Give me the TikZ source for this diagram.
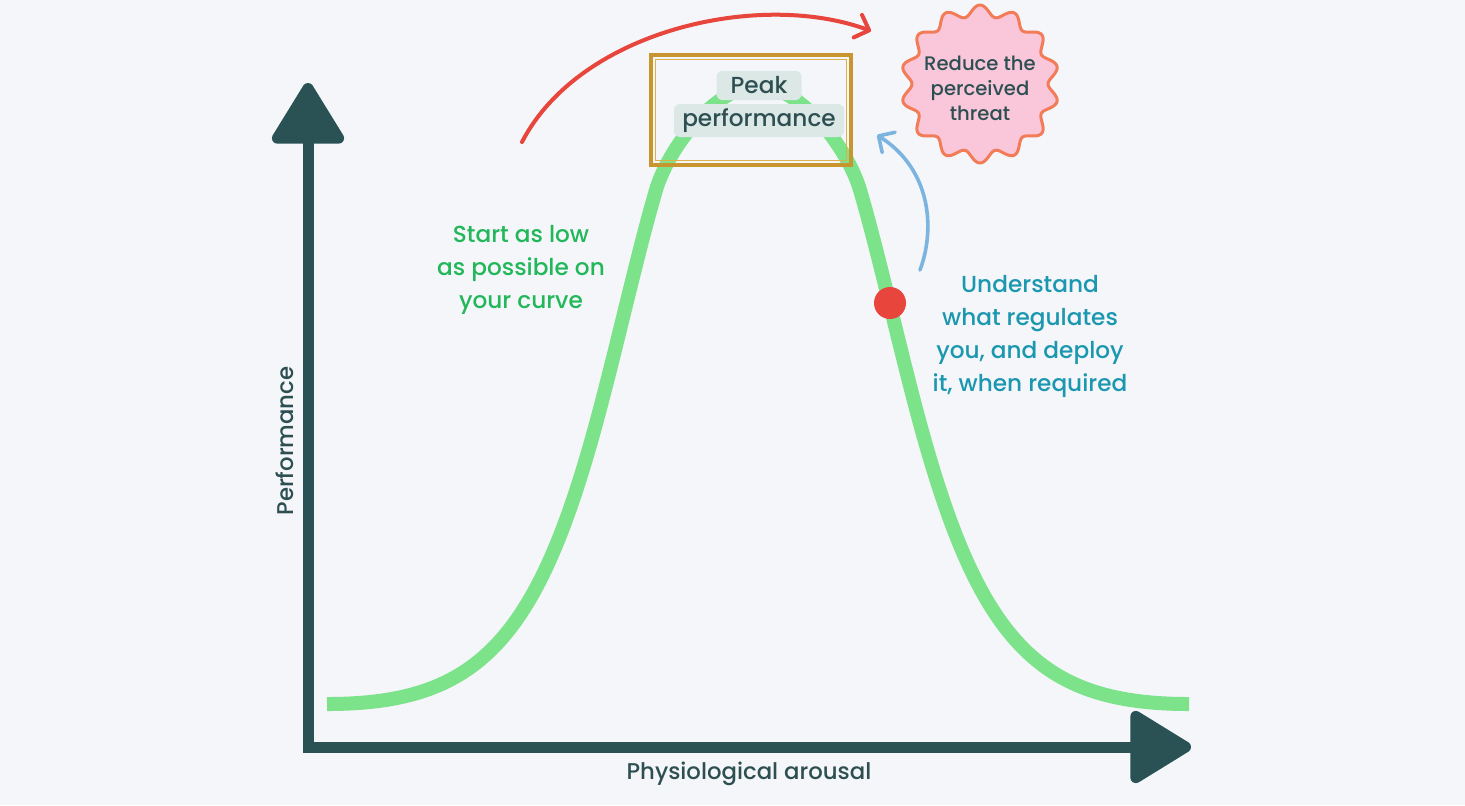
\documentclass[tikz,border=0pt]{standalone}
\usepackage{fontspec}
\setmainfont{Poppins}[UprightFont=* Medium,BoldFont=* SemiBold]
\usetikzlibrary{arrows.meta}

\definecolor{bgcol}{HTML}{F4F6FA}
\definecolor{axiscol}{HTML}{2A5255}
\definecolor{curvecol}{HTML}{7DE38B}
\definecolor{redcol}{HTML}{E8453C}
\definecolor{bluecol}{HTML}{7CB4E0}
\definecolor{startcol}{HTML}{22B85A}
\definecolor{tealcol}{HTML}{1B97B0}
\definecolor{inkcol}{HTML}{2D4F52}
\definecolor{tagcol}{HTML}{DCE8E6}
\definecolor{sealfill}{HTML}{F9C6DA}
\definecolor{sealdraw}{HTML}{F37C58}
\definecolor{goldcol}{HTML}{C8952F}
\definecolor{goldlite}{HTML}{DDB04A}

\begin{document}
\begin{tikzpicture}[
  x=0.5pt,y=-0.5pt,
  font=\fontsize{11.6}{16.5}\selectfont,
  >={Straight Barb[length=6pt,width=12pt,round]},
  axis/.style={draw=axiscol,line width=5.5pt,
    {Triangle[length=33pt,width=39pt,round]}-{Triangle[length=33pt,width=39pt,round]}},
  curve/.style={draw=curvecol,line width=7pt,line cap=butt},
  goldframe/.style={draw=goldcol,line width=2pt,minimum width=100pt,minimum height=55pt,inner sep=0pt},
  peaktag/.style={fill=tagcol,rounded corners=3pt,text=inkcol,inner sep=0pt},
  hotdot/.style={circle,fill=redcol,minimum size=16pt,inner sep=0pt},
  seal/.style={draw=sealdraw,fill=sealfill,line width=1.5pt,line join=round},
  greentext/.style={text=startcol,align=center},
  tealtext/.style={text=tealcol,align=center},
  axlabel/.style={text=inkcol,font=\fontsize{11.4}{14}\selectfont},
  redarrow/.style={->,draw=redcol,line width=2pt,line cap=round},
  bluearrow/.style={->,draw=bluecol,line width=1.8pt,line cap=round},
]
\fill[bgcol] (0,0) rectangle (1465,805);
\useasboundingbox (0,0) rectangle (1465,805);

%% ------------------------------------------------------------------ axes
\coordinate (origin) at (308,747);
\coordinate (ytip) at (308,83);
\coordinate (xtip) at (1191,747);
\draw[axis] (ytip) -- (origin) -- (xtip);
\node[axlabel,rotate=90] (ylab) at (285,441) {Performance};
\node[axlabel] (xlab) at (749,774) {Physiological arousal};

%% ----------------------------------------------------------------- curve
\draw[curve] (327,704) .. controls (477,704) and (537,642) .. (597,420)
  .. controls (617,346) and (638,251) .. (656,190)
  .. controls (668,149) and (715,86) .. (758,86)
  .. controls (801,86) and (848,149) .. (860,190)
  .. controls (878,251) and (899,346) .. (919,420)
  .. controls (979,642) and (1039,704) .. (1189,704);

%% ------------------------------------------------------------------ peak
\node[goldframe] (peakbox) at (751,110) {};
\draw[draw=goldlite,line width=0.7pt]
  ([shift={(6.5,6.5)}]peakbox.north west) rectangle ([shift={(-6.5,-6.5)}]peakbox.south east);
\node[peaktag,minimum width=42.5pt,minimum height=14.5pt] (peak1) at (759,85.5) {Peak};
\node[peaktag,minimum width=85pt,minimum height=16.5pt] (peak2) at (759,120.5) {performance};

%% ------------------------------------------------------------------ seal
\draw[seal] plot[domain=0:360,samples=281,smooth]
  ({980+(73.5+5.5*cos(14*(\x+90)))*cos(\x)},{84+(73.5+5.5*cos(14*(\x+90)))*sin(\x)}) -- cycle;
\node[text=inkcol,align=center,font=\fontsize{9.8}{12.5}\selectfont] (threat) at (980,88)
  {Reduce the\\ perceived\\ threat};

%% ----------------------------------------------------------------- notes
\node[greentext] (start) at (521,270) {Start as low\\ as possible on\\ your curve};
\node[tealtext] (regulate) at (1030,336)
  {Understand\\ what regulates\\ you, and deploy\\ it, when required};
\node[hotdot] (dot) at (890,303) {};

%% ---------------------------------------------------------------- arrows
\coordinate (redfrom) at (522,142);
\coordinate (redto) at (871,31);
\draw[redarrow] (redfrom) .. controls (580,30) and (760,-10) .. (redto);
\coordinate (bluefrom) at (920,270);
\coordinate (blueto) at (877,135);
\draw[bluearrow] (bluefrom) .. controls (935,230) and (932,170) .. (blueto);

\end{tikzpicture}
\end{document}
